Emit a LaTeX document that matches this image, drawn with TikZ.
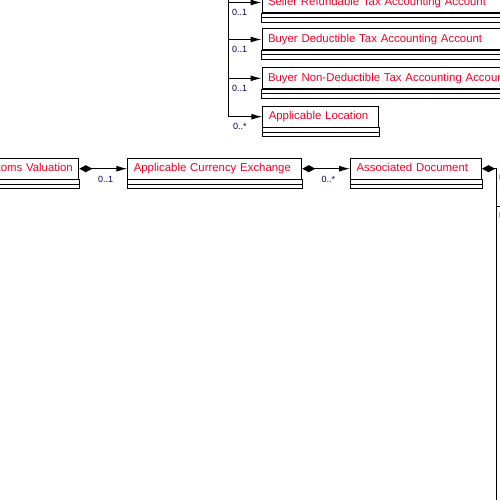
\documentclass[tikz,border=0pt]{standalone}
\usepackage{fontspec}
\setmainfont{Liberation Sans}
\usetikzlibrary{arrows.meta}
\definecolor{umlred}{RGB}{240,0,40}
\definecolor{multblue}{RGB}{0,0,96}
\definecolor{multorange}{RGB}{205,125,40}

\begin{document}
\begin{tikzpicture}[x=1pt,y=-1pt,line width=1pt]
\useasboundingbox (0,0) rectangle (500,500);

\begin{scope}[every node/.style={draw,anchor=north west,minimum height=21pt,
              inner xsep=6pt,inner ysep=0pt,align=left,text=umlred,
              text height=9pt,text depth=2.5pt,
              font=\fontsize{11.4}{14}\selectfont}]
    \node[text width=288pt] (srt) at (261.5,-8.5) {Seller Refundable Tax Accounting Account};
    \node[text width=288pt] (bdt) at (261.5,28.5) {Buyer Deductible Tax Accounting Account};
    \node[text width=288pt] (bndt) at (261.5,67.3) {Buyer Non-Deductible Tax Accounting Account};
    \node[text width=104pt] (loc) at (262.3,105.7) {Applicable Location};
    \node[anchor=north east,align=right,text width=150pt] (cval) at (79.3,157.7) {Customs Valuation};
    \node[text width=162pt] (cex) at (127.3,157.7) {Applicable Currency Exchange};
    \node[text width=119pt] (adoc) at (350,157.7) {Associated Document};
\end{scope}

% attribute compartments
\foreach \b in {srt,bdt,bndt,loc,cval,cex,adoc} {
    \draw (\b.south west) rectangle ([yshift=-9pt]\b.south east);
    \draw ([yshift=-4.5pt]\b.south west) -- ([yshift=-4.5pt]\b.south east);
}

\coordinate (trunk) at (228.5,-20);
\coordinate (dtrunk) at (496,520);
\coordinate (dref) at (520,206.5);

\begin{scope}[>={Latex[length=11pt,width=6pt]},
              every node/.style={inner sep=0pt,text=multblue,
                                 font=\fontsize{9}{10}\selectfont}]
    \draw [->] (trunk) |- (srt.west) node [pos=0.67,yshift=-9.7pt] {0..1};
    \draw [->] (trunk) |- (bdt.west) node [pos=0.67,yshift=-10pt] {0..1};
    \draw [->] (trunk) |- (bndt.west) node [pos=0.67,yshift=-10pt] {0..1};
    \draw [->] (trunk) |- (loc.west) node [pos=0.67,yshift=-9.5pt] {0..*};
    \draw [{Diamond[length=13pt,width=7pt]}->] (cval.east) -- (cex.west)
        node [pos=0.55,yshift=-10.6pt] {0..1};
    \draw [{Diamond[length=13pt,width=7pt]}->] (cex.east) -- (adoc.west)
        node [pos=0.546,yshift=-10.6pt] {0..*};
    \draw [{Diamond[length=13pt,width=7pt]}-] (adoc.east) -| (dtrunk);
    \draw (dtrunk) |- (dref);
\end{scope}

\begin{scope}[every node/.style={inner sep=0pt,anchor=west,text=multorange,
              font=\fontsize{9}{10}\selectfont}]
    \node (dmult1) at (498,177.5) {0..1};
    \node (dmult2) at (498,215.5) {0..1};
\end{scope}
\end{tikzpicture}
\end{document}
